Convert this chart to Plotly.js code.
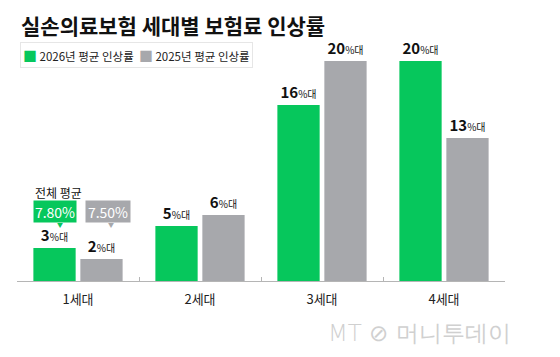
<!DOCTYPE html>
<html>
<head>
<meta charset="utf-8">
<script src="https://cdn.plot.ly/plotly-3.0.1.min.js"></script>
<style>
  html, body { margin: 0; padding: 0; background: #fff; }
  #chart { width: 560px; height: 357px; }
</style>
</head>
<body>
<div id="chart"></div>
<script>
// ---- data ----
const categories = ['1세대', '2세대', '3세대', '4세대'];
const series2026Name = '2026년 평균 인상률';
const series2025Name = '2025년 평균 인상률';
const values2026 = [3, 5, 16, 20];
const values2025 = [2, 6, 20, 13];
const avgLabel = '전체 평균';
const avg2026 = '7.80%';
const avg2025 = '7.50%';
const chartTitle = '실손의료보험 세대별 보험료 인상률';
const sourceMark = 'MT ⊘ 머니투데이';

// ---- styles ----
const GREEN = '#06C75C';
const GRAY = '#A7A8AC';
const FONT = 'Noto Sans CJK KR, Noto Sans, sans-serif';
const labelTpl = '<b>%{y}</b><span style="font-size:10px">%대</span>';

const traces = [
  {
    type: 'bar', name: series2026Name, x: categories, y: values2026,
    marker: { color: GREEN },
    texttemplate: labelTpl, textposition: 'outside', constraintext: 'none',
    cliponaxis: false,
    outsidetextfont: { family: FONT, size: 15, color: '#111' },
    hoverinfo: 'skip', showlegend: false
  },
  {
    type: 'bar', name: series2025Name, x: categories, y: values2025,
    marker: { color: GRAY },
    texttemplate: labelTpl, textposition: 'outside', constraintext: 'none',
    cliponaxis: false,
    outsidetextfont: { family: FONT, size: 15, color: '#111' },
    hoverinfo: 'skip', showlegend: false
  }
];

const legendText =
  '<span style="color:' + GREEN + ';font-size:14px">■</span> ' + series2026Name +
  '  <span style="color:' + GRAY + ';font-size:14px">■</span> ' + series2025Name;

const layout = {
  width: 560, height: 357,
  margin: { l: 17, r: 55, t: 36, b: 76, pad: 0 },
  paper_bgcolor: '#fff', plot_bgcolor: '#fff',
  font: { family: FONT, color: '#111' },
  title: {
    text: '<b>' + chartTitle + '</b>',
    font: { family: FONT, size: 21, color: '#111' },
    x: 21 / 560, xanchor: 'left', xref: 'container',
    y: 1 - 27 / 357, yanchor: 'middle', yref: 'container'
  },
  barmode: 'group', bargap: 0.23, bargroupgap: 0.1,
  showlegend: false,
  xaxis: {
    type: 'category', range: [-0.5, 3.5],
    showline: true, linecolor: '#b5b5b5', linewidth: 1,
    ticks: 'inside', tickson: 'boundaries', ticklen: 4, tickcolor: '#b5b5b5',
    tickfont: { family: FONT, size: 13, color: '#222' },
    ticklabelstandoff: 6,
    showgrid: false, zeroline: false, fixedrange: true
  },
  yaxis: {
    range: [0, 245 / 11], visible: false, showgrid: false, zeroline: false,
    fixedrange: true
  },
  annotations: [
    { x: 0.006, y: (281 - 54.5) / 245, xref: 'paper', yref: 'paper',
      xanchor: 'left', yanchor: 'middle',
      text: legendText, showarrow: false,
      bgcolor: '#fff', bordercolor: '#e6e6e6', borderwidth: 1, borderpad: 2,
      font: { family: FONT, size: 11.5, color: '#222' } },
    { x: categories[0], y: (281 - 192) / 11, xref: 'x', yref: 'y', xshift: -20,
      text: avgLabel, showarrow: false,
      font: { family: FONT, size: 12, color: '#111' } },
    { x: categories[0], y: (281 - 211.5) / 11, xref: 'x', yref: 'y', xshift: -23,
      text: avg2026, showarrow: false, bgcolor: GREEN, width: 40, height: 19,
      font: { family: FONT, size: 14, color: '#fff' } },
    { x: categories[0], y: (281 - 224) / 11, xref: 'x', yref: 'y', xshift: -18,
      text: '▼', showarrow: false,
      font: { family: FONT, size: 6, color: GREEN } },
    { x: categories[0], y: (281 - 211.5) / 11, xref: 'x', yref: 'y', xshift: 30,
      text: avg2025, showarrow: false, bgcolor: GRAY, width: 42, height: 19,
      font: { family: FONT, size: 14, color: '#fff' } },
    { x: categories[0], y: (281 - 224) / 11, xref: 'x', yref: 'y', xshift: 33,
      text: '▼', showarrow: false,
      font: { family: FONT, size: 6, color: GRAY } },
    { x: 1.016, y: -0.212, xref: 'paper', yref: 'paper', xanchor: 'right', yanchor: 'middle',
      text: sourceMark, showarrow: false,
      font: { family: 'DejaVu Sans, sans-serif', size: 23, color: '#d0d0d0', weight: 300 } }
  ]
};

Plotly.newPlot('chart', traces, layout, { displayModeBar: false, staticPlot: true });
</script>
</body>
</html>
